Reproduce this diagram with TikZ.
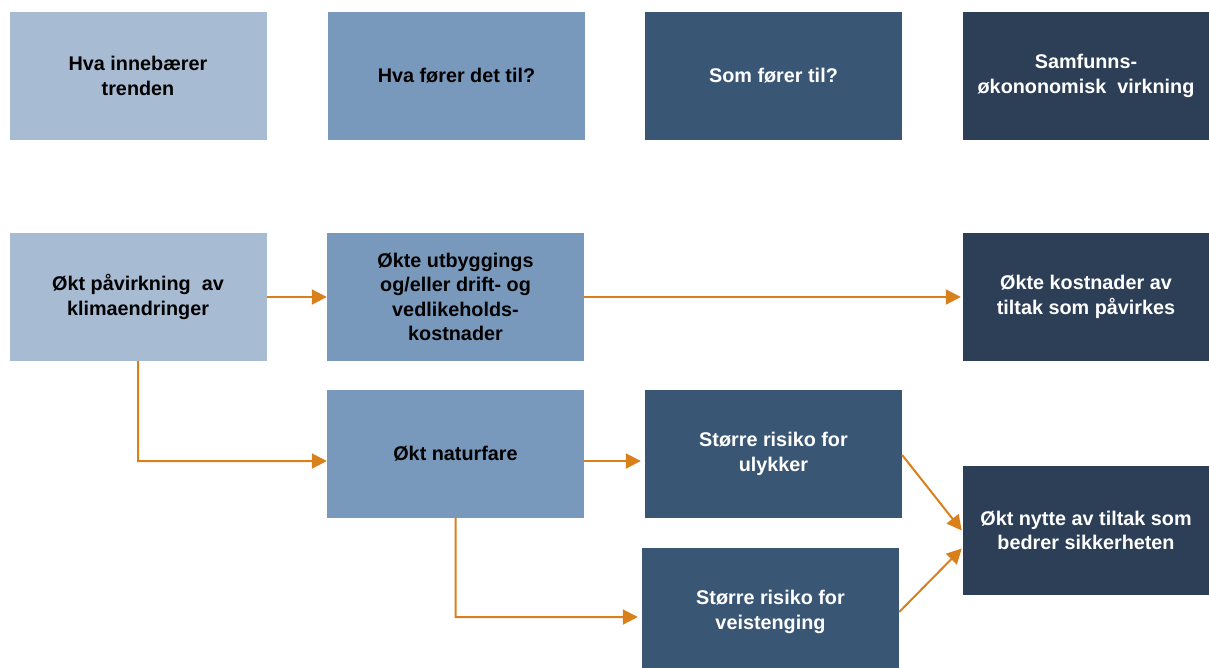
\documentclass[tikz,border=0pt]{standalone}
\usepackage{fontspec}
\setmainfont{Liberation Sans}
\usetikzlibrary{arrows.meta,calc}
\definecolor{blueA}{HTML}{A7BBD3}
\definecolor{blueB}{HTML}{7899BC}
\definecolor{blueC}{HTML}{3A5675}
\definecolor{blueD}{HTML}{2C3F57}
\definecolor{flow}{HTML}{D9801A}
\tikzset{
  box/.style={rectangle, minimum width=257pt, minimum height=128pt, inner sep=0pt,
    align=center, font=\fontsize{19.8}{24.6}\selectfont\bfseries},
  lvl1/.style={box, fill=blueA, text=black},
  lvl2/.style={box, fill=blueB, text=black},
  lvl3/.style={box, fill=blueC, text=white},
  lvl4/.style={box, fill=blueD, text=white, minimum width=246pt},
  link/.style={draw=flow, line width=2pt, -{Triangle[length=15pt,width=15pt]}}
}
\begin{document}
\begin{tikzpicture}[x=1pt,y=-1pt]
\useasboundingbox (0,0) rectangle (1209,667);
\begin{scope}
\clip (0,0) rectangle (1209,667);
% column headers
\node[lvl1] (h1) at (138,76) {Hva innebærer\\trenden};
\node[lvl2] (h2) at (456.5,76) {Hva fører det til?};
\node[lvl3] (h3) at (773.5,76) {Som fører til?};
\node[lvl4] (h4) at (1086,76) {Samfunns-\\økononomisk\ \ virkning};
% chain of effects
\node[lvl1] (a) at (138,297) {Økt påvirkning\ \ av\\klimaendringer};
\node[lvl2] (b) at (455.5,297) {Økte utbyggings\\og/eller drift- og\\vedlikeholds-\\kostnader};
\node[lvl4] (e) at (1086,297) {Økte kostnader av\\tiltak som påvirkes};
\node[lvl2] (c) at (455.5,454) {Økt naturfare};
\node[lvl3] (d) at (773.5,454) {Større risiko for\\ulykker};
\node[lvl3] (f) at (770.5,612) {Større risiko for\\veistenging};
\node[lvl4, minimum height=129pt] (g) at (1086,530.5) {Økt nytte av tiltak som\\bedrer sikkerheten};
\end{scope}
% connectors
\draw[link] (a.east) -- (b.west);
\draw[link] (b.east) -- ($(e.west)+(-2,0)$);
\draw[link] (a.south) -- ++(0,100) -- ($(c.west)+(0,7)$);
\draw[link] ($(c.east)+(0,7)$) -- ($(d.west)+(-4,7)$);
\draw[link] (c.south) -- ++(0,99) -- ($(f.west)+(-4,5)$);
\draw[link] ($(d.east)+(0,1)$) -- ($(g.west)+(-1,0)$);
\draw[link] (f.east) -- ($(g.west)+(-1,18)$);
\end{tikzpicture}
\end{document}
